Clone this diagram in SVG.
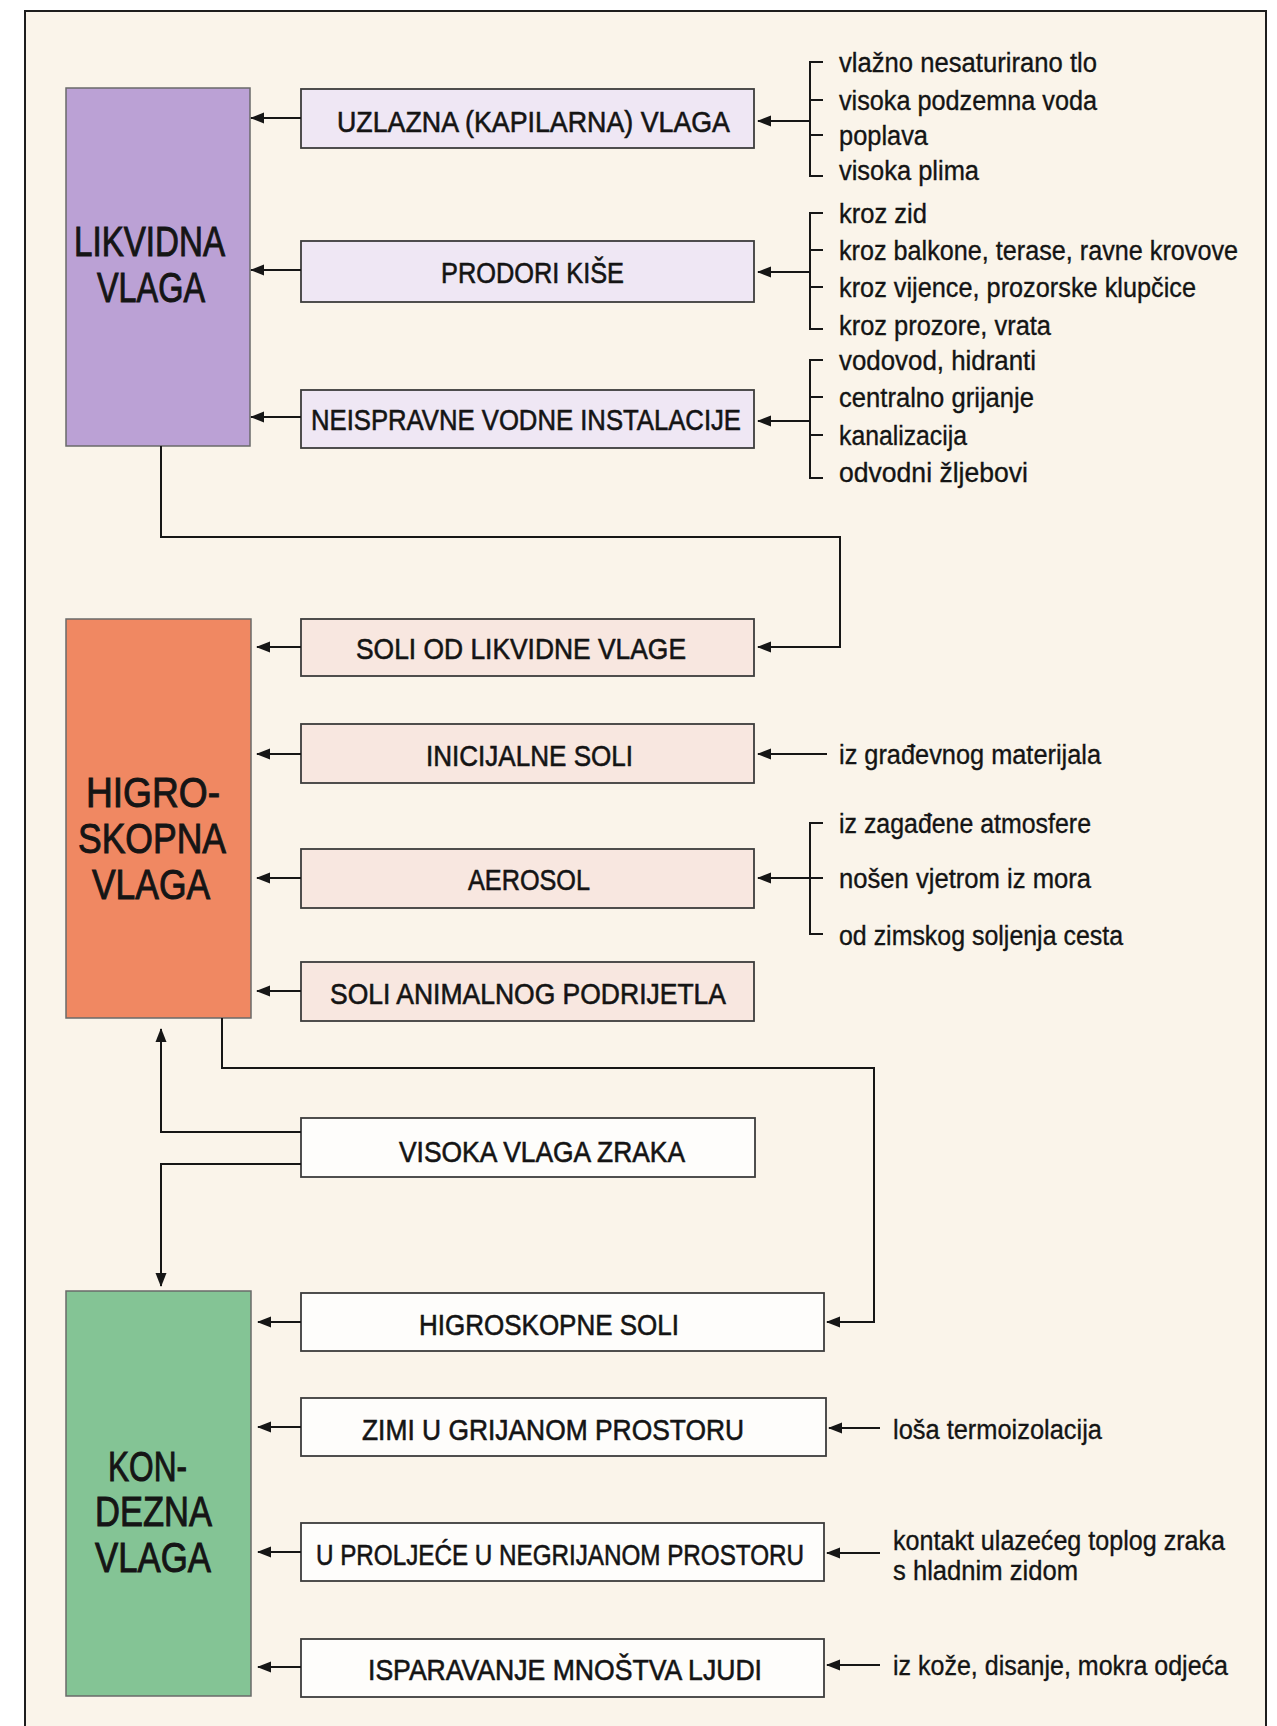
<svg xmlns="http://www.w3.org/2000/svg" width="1277" height="1726" viewBox="0 0 1277 1726">
<style>
  .frame { fill: #faf4ea; stroke: #1e1e1e; stroke-width: 2; }
  .big { stroke: #6a6a6a; stroke-width: 1.5; }
  .box { stroke: #3c3c3c; stroke-width: 1.8; }
  .lav { fill: #efe7f4; }
  .pink { fill: #f8e7e0; }
  .wht { fill: #fefdfb; }
  .bigt { font-family: "Liberation Sans", Arial, sans-serif; font-size: 43px; fill: #151515; stroke: #151515; stroke-width: 1; }
  .midt { font-family: "Liberation Sans", Arial, sans-serif; font-size: 30px; fill: #141414; stroke: #141414; stroke-width: 0.6; }
  .srct { font-family: "Liberation Sans", Arial, sans-serif; font-size: 27px; fill: #141414; stroke: #141414; stroke-width: 0.35; }
  .con { fill: none; stroke: #161616; stroke-width: 2; }
  .arr { fill: none; stroke: #161616; stroke-width: 2; marker-end: url(#ah); }
</style>
<defs>
  <marker id="ah" markerWidth="14" markerHeight="12" refX="13" refY="6" orient="auto" markerUnits="userSpaceOnUse">
    <path d="M0,0.5 L14,6 L0,11.5 z" fill="#161616"/>
  </marker>
</defs>
<rect x="0" y="0" width="1277" height="1726" fill="#ffffff"/>
<rect class="frame" x="25" y="11" width="1241" height="1740"/>

<g id="likvidna-vlaga">
  <rect class="big" x="66" y="88" width="184" height="358" fill="#bba1d5"/>
  <text class="bigt" x="74" y="256" textLength="151" lengthAdjust="spacingAndGlyphs">LIKVIDNA</text>
  <text class="bigt" x="97" y="302" textLength="108" lengthAdjust="spacingAndGlyphs">VLAGA</text>
</g>
<g id="higroskopna-vlaga">
  <rect class="big" x="66" y="619" width="185" height="399" fill="#f08862"/>
  <text class="bigt" x="86" y="807" textLength="134" lengthAdjust="spacingAndGlyphs" fill="#2a1c16" stroke="#2a1c16">HIGRO-</text>
  <text class="bigt" x="78" y="853" textLength="148" lengthAdjust="spacingAndGlyphs" fill="#2a1c16" stroke="#2a1c16">SKOPNA</text>
  <text class="bigt" x="92" y="899" textLength="118" lengthAdjust="spacingAndGlyphs" fill="#2a1c16" stroke="#2a1c16">VLAGA</text>
</g>
<g id="kondezna-vlaga">
  <rect class="big" x="66" y="1291" width="185" height="405" fill="#84c495"/>
  <text class="bigt" x="108" y="1481" textLength="79" lengthAdjust="spacingAndGlyphs" fill="#16281a" stroke="#16281a">KON-</text>
  <text class="bigt" x="95" y="1526" textLength="117" lengthAdjust="spacingAndGlyphs" fill="#16281a" stroke="#16281a">DEZNA</text>
  <text class="bigt" x="95" y="1572" textLength="116" lengthAdjust="spacingAndGlyphs" fill="#16281a" stroke="#16281a">VLAGA</text>
</g>

<g id="uzlazna">
  <rect class="box lav" x="301" y="89" width="453" height="59"/>
  <text class="midt" x="337" y="132" textLength="393" lengthAdjust="spacingAndGlyphs">UZLAZNA (KAPILARNA) VLAGA</text>
</g>
<g id="prodori">
  <rect class="box lav" x="301" y="241" width="453" height="61"/>
  <text class="midt" x="441" y="283" textLength="183" lengthAdjust="spacingAndGlyphs">PRODORI KIŠE</text>
</g>
<g id="neispravne">
  <rect class="box lav" x="301" y="390" width="453" height="58"/>
  <text class="midt" x="311" y="430" textLength="430" lengthAdjust="spacingAndGlyphs">NEISPRAVNE VODNE INSTALACIJE</text>
</g>
<g id="soli-likvidne">
  <rect class="box pink" x="301" y="619" width="453" height="57"/>
  <text class="midt" x="356" y="659" textLength="330" lengthAdjust="spacingAndGlyphs">SOLI OD LIKVIDNE VLAGE</text>
</g>
<g id="inicijalne">
  <rect class="box pink" x="301" y="724" width="453" height="59"/>
  <text class="midt" x="426" y="766" textLength="207" lengthAdjust="spacingAndGlyphs">INICIJALNE SOLI</text>
</g>
<g id="aerosol">
  <rect class="box pink" x="301" y="849" width="453" height="59"/>
  <text class="midt" x="468" y="890" textLength="122" lengthAdjust="spacingAndGlyphs">AEROSOL</text>
</g>
<g id="animalnog">
  <rect class="box pink" x="301" y="962" width="453" height="59"/>
  <text class="midt" x="330" y="1004" textLength="396" lengthAdjust="spacingAndGlyphs">SOLI ANIMALNOG PODRIJETLA</text>
</g>
<g id="visoka-vlaga">
  <rect class="box wht" x="301" y="1118" width="454" height="59"/>
  <text class="midt" x="399" y="1162" textLength="286" lengthAdjust="spacingAndGlyphs">VISOKA VLAGA ZRAKA</text>
</g>
<g id="higroskopne-soli">
  <rect class="box wht" x="301" y="1293" width="523" height="58"/>
  <text class="midt" x="419" y="1335" textLength="260" lengthAdjust="spacingAndGlyphs">HIGROSKOPNE SOLI</text>
</g>
<g id="zimi">
  <rect class="box wht" x="301" y="1398" width="525" height="58"/>
  <text class="midt" x="362" y="1440" textLength="382" lengthAdjust="spacingAndGlyphs">ZIMI U GRIJANOM PROSTORU</text>
</g>
<g id="proljece">
  <rect class="box wht" x="301" y="1523" width="523" height="58"/>
  <text class="midt" x="316" y="1565" textLength="488" lengthAdjust="spacingAndGlyphs">U PROLJEĆE U NEGRIJANOM PROSTORU</text>
</g>
<g id="isparavanje">
  <rect class="box wht" x="301" y="1639" width="523" height="58"/>
  <text class="midt" x="368" y="1680" textLength="394" lengthAdjust="spacingAndGlyphs">ISPARAVANJE MNOŠTVA LJUDI</text>
</g>

<g id="uzroci-uzlazna">
  <text class="srct" x="839" y="72" textLength="258" lengthAdjust="spacingAndGlyphs">vlažno nesaturirano tlo</text>
  <text class="srct" x="839" y="110" textLength="258" lengthAdjust="spacingAndGlyphs">visoka podzemna voda</text>
  <text class="srct" x="839" y="145" textLength="89" lengthAdjust="spacingAndGlyphs">poplava</text>
  <text class="srct" x="839" y="180" textLength="140" lengthAdjust="spacingAndGlyphs">visoka plima</text>
</g>
<g id="uzroci-prodori">
  <text class="srct" x="839" y="223" textLength="88" lengthAdjust="spacingAndGlyphs">kroz zid</text>
  <text class="srct" x="839" y="260" textLength="399" lengthAdjust="spacingAndGlyphs">kroz balkone, terase, ravne krovove</text>
  <text class="srct" x="839" y="297" textLength="357" lengthAdjust="spacingAndGlyphs">kroz vijence, prozorske klupčice</text>
  <text class="srct" x="839" y="335" textLength="212" lengthAdjust="spacingAndGlyphs">kroz prozore, vrata</text>
</g>
<g id="uzroci-instalacije">
  <text class="srct" x="839" y="370" textLength="197" lengthAdjust="spacingAndGlyphs">vodovod, hidranti</text>
  <text class="srct" x="839" y="407" textLength="195" lengthAdjust="spacingAndGlyphs">centralno grijanje</text>
  <text class="srct" x="839" y="445" textLength="128" lengthAdjust="spacingAndGlyphs">kanalizacija</text>
  <text class="srct" x="839" y="482" textLength="189" lengthAdjust="spacingAndGlyphs">odvodni žljebovi</text>
</g>
<g id="uzroci-inicijalne">
  <text class="srct" x="839" y="764" textLength="262" lengthAdjust="spacingAndGlyphs">iz građevnog materijala</text>
</g>
<g id="uzroci-aerosol">
  <text class="srct" x="839" y="833" textLength="252" lengthAdjust="spacingAndGlyphs">iz zagađene atmosfere</text>
  <text class="srct" x="839" y="888" textLength="252" lengthAdjust="spacingAndGlyphs">nošen vjetrom iz mora</text>
  <text class="srct" x="839" y="945" textLength="284" lengthAdjust="spacingAndGlyphs">od zimskog soljenja cesta</text>
</g>
<g id="uzroci-zimi">
  <text class="srct" x="893" y="1439" textLength="209" lengthAdjust="spacingAndGlyphs">loša termoizolacija</text>
</g>
<g id="uzroci-proljece">
  <text class="srct" x="893" y="1550" textLength="332" lengthAdjust="spacingAndGlyphs">kontakt ulazećeg toplog zraka</text>
  <text class="srct" x="893" y="1580" textLength="185" lengthAdjust="spacingAndGlyphs">s hladnim zidom</text>
</g>
<g id="uzroci-isparavanje">
  <text class="srct" x="893" y="1675" textLength="335" lengthAdjust="spacingAndGlyphs">iz kože, disanje, mokra odjeća</text>
</g>

<g id="connectors">
  <path class="arr" d="M301,118 H251"/>
  <path class="arr" d="M301,270 H251"/>
  <path class="arr" d="M301,417 H251"/>
  <path class="arr" d="M301,647 H257"/>
  <path class="arr" d="M301,754 H257"/>
  <path class="arr" d="M301,878 H257"/>
  <path class="arr" d="M301,991 H257"/>
  <path class="arr" d="M301,1322 H258"/>
  <path class="arr" d="M301,1427 H258"/>
  <path class="arr" d="M301,1552 H258"/>
  <path class="arr" d="M301,1667 H258"/>
  <path class="con" d="M823,62 H810 V176 H823 M810,100 H823 M810,135 H823"/>
  <path class="arr" d="M810,121 H758"/>
  <path class="con" d="M823,213 H810 V329 H823 M810,250 H823 M810,287 H823"/>
  <path class="arr" d="M810,272 H758"/>
  <path class="con" d="M823,360 H810 V478 H823 M810,397 H823 M810,435 H823"/>
  <path class="arr" d="M810,421 H758"/>
  <path class="arr" d="M827,754 H758"/>
  <path class="con" d="M823,823 H810 V934 H823 M810,878 H823"/>
  <path class="arr" d="M810,878 H758"/>
  <path class="arr" d="M880,1428 H829"/>
  <path class="arr" d="M880,1553 H827"/>
  <path class="arr" d="M880,1665 H827"/>
  <path class="arr" d="M161,446 V537 H840 V647 H758"/>
  <path class="arr" d="M222,1018 V1068 H874 V1322 H827"/>
  <path class="arr" d="M301,1132 H161 V1029"/>
  <path class="arr" d="M301,1164 H161 V1286"/>
</g>
</svg>
